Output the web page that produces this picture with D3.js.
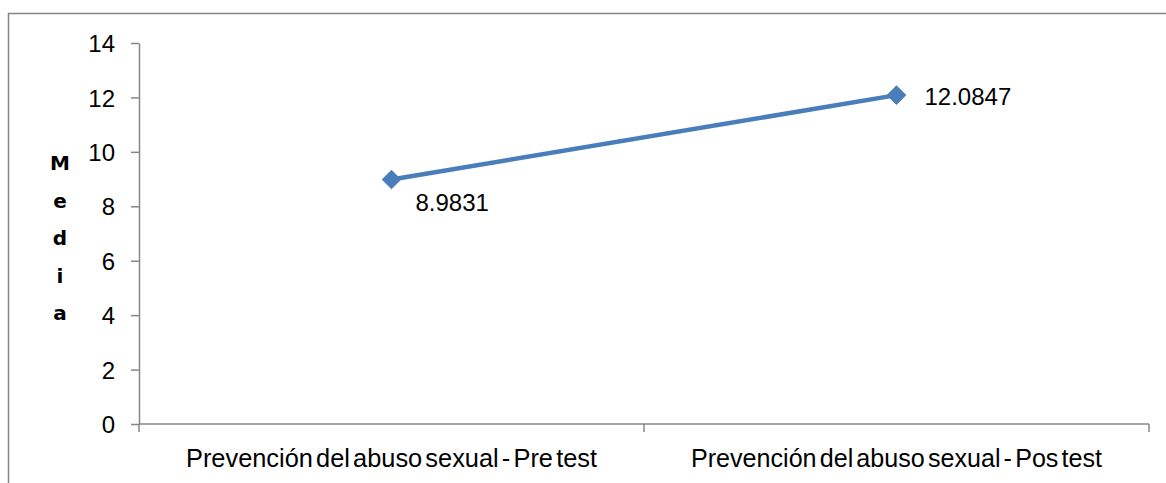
<!DOCTYPE html>
<html><head><meta charset="utf-8">
<script src="https://cdn.jsdelivr.net/npm/d3@7"></script>
<style>
html,body{margin:0;padding:0;background:#fff;}
svg{display:block;}
</style></head>
<body>
<svg id="chart" width="1166" height="483"></svg>
<script>
const categories = ["Prevención del abuso sexual - Pre test", "Prevención del abuso sexual - Pos test"];
const values = [8.9831, 12.0847];
const valueLabels = ["8.9831", "12.0847"];
const yTicks = [0, 2, 4, 6, 8, 10, 12, 14];
const yTitle = ["M", "e", "d", "i", "a"];

const svg = d3.select("#chart");
const axisColor = "#868686";
const lineColor = "#4a7ebb";

// outer frame
svg.append("path").attr("d", "M8.5,500 V13.5 H1200").attr("fill", "none")
  .attr("stroke", axisColor).attr("stroke-width", 1.5);

const x0 = 139, x1 = 1149, yTop = 43, yBot = 424;
const x = d3.scaleBand().domain(categories).range([x0, x1]).paddingInner(0).paddingOuter(0);
const y = d3.scaleLinear().domain([0, 14]).range([yBot, yTop]);

// y axis
const yAxis = svg.append("g").attr("transform", `translate(${x0},0)`)
  .call(d3.axisLeft(y).tickValues(yTicks).tickSize(8).tickPadding(16).tickSizeOuter(0));
yAxis.select(".domain").attr("stroke", axisColor).attr("stroke-width", 1.5);
yAxis.selectAll(".tick line").attr("stroke", axisColor).attr("stroke-width", 1.5);
yAxis.selectAll(".tick text").attr("font-family", "Liberation Sans, Arial, sans-serif")
  .attr("font-size", 24).attr("fill", "#000").attr("dy", "0.36em");

// x axis
const xAxisG = svg.append("g").attr("transform", `translate(0,${yBot})`);
xAxisG.append("line").attr("x1", x0).attr("x2", x1).attr("y1", 0).attr("y2", 0)
  .attr("stroke", axisColor).attr("stroke-width", 1.5);
const boundaries = [x0].concat(categories.map(c => x(c) + x.bandwidth()));
xAxisG.selectAll("line.tk").data(boundaries).enter().append("line").attr("class", "tk")
  .attr("x1", d => d).attr("x2", d => d).attr("y1", 0).attr("y2", 8)
  .attr("stroke", axisColor).attr("stroke-width", 1.5);
xAxisG.selectAll("text.cat").data(categories).enter().append("text").attr("class", "cat")
  .attr("x", d => x(d) + x.bandwidth() / 2).attr("y", 43)
  .attr("text-anchor", "middle")
  .attr("font-family", "Liberation Sans, Arial, sans-serif")
  .attr("font-size", 25).attr("fill", "#000")
  .style("word-spacing", "-3.8px")
  .attr("textLength", 411).attr("lengthAdjust", "spacingAndGlyphs")
  .text(d => d);

// y title stacked letters
svg.append("g").selectAll("text").data(yTitle).enter().append("text")
  .attr("x", 60).attr("y", (d, i) => 170 + i * 37.5)
  .attr("text-anchor", "middle")
  .attr("font-family", "DejaVu Sans, Verdana, sans-serif")
  .attr("font-weight", "bold").attr("font-size", 20).attr("fill", "#000")
  .text(d => d);

// line
const cx = i => x(categories[i]) + x.bandwidth() / 2;
const line = d3.line().x((d, i) => cx(i)).y(d => y(d));
svg.append("path").datum(values).attr("d", line).attr("fill", "none")
  .attr("stroke", lineColor).attr("stroke-width", 4.5).attr("stroke-linecap", "round");

// markers
svg.append("g").selectAll("path").data(values).enter().append("path")
  .attr("d", d3.symbol().type(d3.symbolDiamond2).size(220))
  .attr("transform", (d, i) => `translate(${cx(i)},${y(d)})`)
  .attr("fill", lineColor).attr("stroke", lineColor).attr("stroke-width", 1);

// data labels
const labelOffsets = [[24, 31], [28, 10]];
svg.append("g").selectAll("text").data(values).enter().append("text")
  .attr("x", (d, i) => cx(i) + labelOffsets[i][0])
  .attr("y", (d, i) => y(d) + labelOffsets[i][1])
  .attr("font-family", "Liberation Sans, Arial, sans-serif")
  .attr("font-size", 24).attr("fill", "#000")
  .text((d, i) => valueLabels[i]);
</script>
</body></html>
